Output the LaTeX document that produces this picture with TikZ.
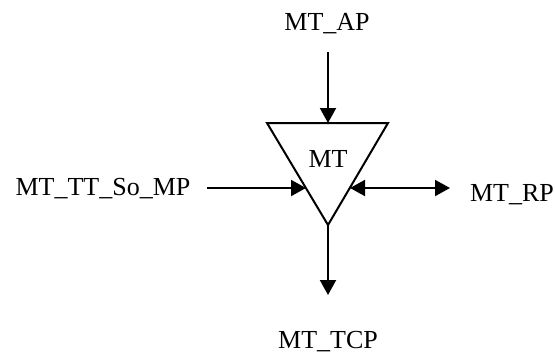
\documentclass[tikz,border=0pt]{standalone}
\usepackage{fontspec}
\setmainfont{Liberation Serif}
\usetikzlibrary{arrows.meta}

\begin{document}
\begin{tikzpicture}[x=0.5pt, y=-0.5pt, line width=1pt,
    >={Triangle[length=7.5pt,width=8pt]},
    lbl/.style={font=\fontsize{13}{15}\selectfont, inner sep=0pt, anchor=base}]
    \useasboundingbox (0,0) rectangle (555,354);

    % Dreieck MT
    \coordinate (tl) at (267,123);
    \coordinate (tr) at (388,123);
    \coordinate (bot) at (328,225);
    \draw (tl) -- (tr) -- (bot) -- cycle;
    \node[lbl] (mt) at (328,167) {MT};

    % Anschlusspunkte am Dreieck
    \coordinate (top) at (328,123);
    \coordinate (lin) at (306,188);
    \coordinate (rin) at (350,188);

    % Beschriftungen
    \node[lbl] (ap) at (327,30) {MT\_AP};
    \node[lbl] (ttso) at (103,195) {MT\_TT\_So\_MP};
    \node[lbl] (rp) at (512,201) {MT\_RP};
    \node[lbl] (tcp) at (328,348) {MT\_TCP};

    % Pfeilenden
    \coordinate (apout) at (328,52);
    \coordinate (ttout) at (207,188);
    \coordinate (rpout) at (450,188);
    \coordinate (tcpout) at (328,295);

    % Pfeile
    \draw[->] (apout) -- (top);
    \draw[->] (ttout) -- (lin);
    \draw[<->] (rin) -- (rpout);
    \draw[->] (bot) -- (tcpout);
\end{tikzpicture}
\end{document}
